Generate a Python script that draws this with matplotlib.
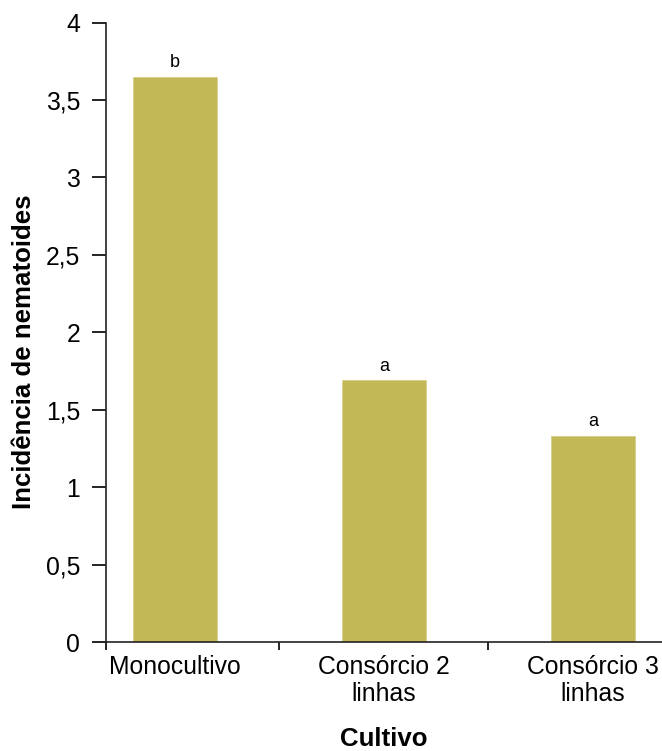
import numpy as np
import matplotlib.pyplot as plt

plt.rcParams['font.family'] = ['Liberation Sans', 'DejaVu Sans']

cultivos = ["Monocultivo", "Consórcio 2\nlinhas", "Consórcio 3\nlinhas"]
incidencia = [3.65, 1.69, 1.33]
letras = ["b", "a", "a"]
yticks = [0, 0.5, 1, 1.5, 2, 2.5, 3, 3.5, 4]
ytick_labels = ["0", "0,5", "1", "1,5", "2", "2,5", "3", "3,5", "4"]

fig = plt.figure(figsize=(6.62, 7.51), dpi=100)
ax = fig.add_axes([0.160, 0.145, 0.840, 0.825])

x = np.arange(len(cultivos))
ax.bar(x, incidencia, width=0.4, color="#c2b856", edgecolor="#d6cf8c", linewidth=0.6)

# letras de significância acima das barras
for xi, v, l in zip(x, incidencia, letras):
    ax.text(xi, v + 0.062, l, ha="center", va="baseline", fontsize=13)

ax.set_xlim(-0.33, 2.33)
ax.set_ylim(0, 4)
ax.set_yticks(yticks)
ax.set_yticklabels(ytick_labels, fontsize=17.8)
ax.set_xticks(x)
ax.set_xticklabels(cultivos, fontsize=17.8)
ax.set_xticks([-0.33, 0.5, 1.5], minor=True)
ax.tick_params(axis="x", which="major", length=0, pad=9)
ax.tick_params(axis="x", which="minor", length=6, width=1.2, direction="out")
ax.tick_params(axis="y", length=10, width=1.2, direction="out", pad=8.5)

for s in ["top", "right"]:
    ax.spines[s].set_visible(False)
for s in ["left", "bottom"]:
    ax.spines[s].set_linewidth(1.2)
    ax.spines[s].set_color("#222222")

ax.set_xlabel("Cultivo", fontsize=18.6, fontweight="bold")
ax.xaxis.set_label_coords(0.5, -0.137)
ax.set_ylabel("Incidência de nematoides", fontsize=18.6, fontweight="bold")
ax.yaxis.set_label_coords(-0.125, 0.468)

fig.savefig("out.png", dpi=100)
